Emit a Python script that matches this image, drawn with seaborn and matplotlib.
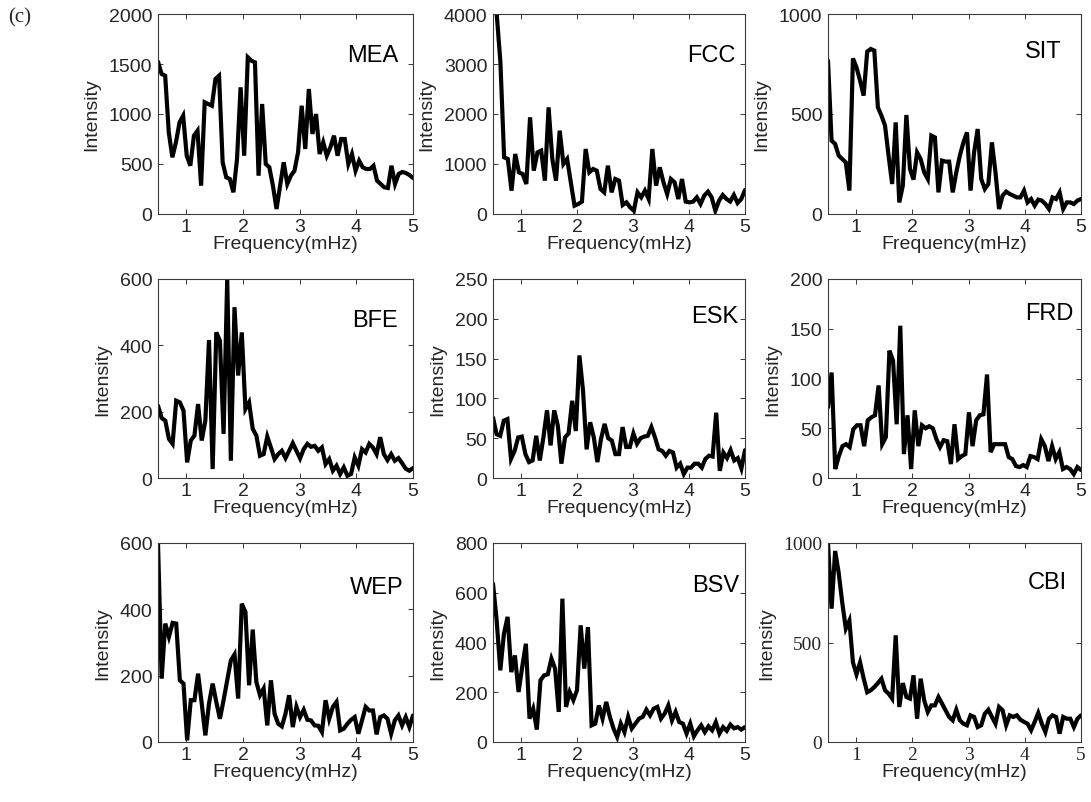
import numpy as np
import pandas as pd
import matplotlib
matplotlib.use("Agg")
import matplotlib.pyplot as plt
import seaborn as sns

# Station codes, one panel each (row-major order)
stations = ["MEA", "FCC", "SIT", "BFE", "ESK", "FRD", "WEP", "BSV", "CBI"]

# Spectral intensity per station, sampled evenly from 0.5 to 5 mHz
mea = [1523, 1400, 1383, 817, 567, 717, 917, 983, 583, 483, 783, 833, 283, 1117,
       1100, 1083, 1350, 1383, 517, 367, 350, 217, 550, 1267, 583, 1567, 1533, 1517,
       383, 1100, 500, 467, 283, 50, 283, 517, 300, 383, 433, 617, 1083, 650, 1250,
       800, 1000, 600, 717, 583, 667, 783, 583, 750, 750, 500, 600, 433, 533, 467,
       450, 450, 483, 333, 300, 267, 260, 483, 300, 400, 420, 410, 390, 360]
fcc = [5000, 4000, 3033, 1133, 1100, 467, 1200, 833, 800, 600, 1933, 867, 1233, 1267,
       667, 2133, 1100, 667, 1667, 1000, 1100, 633, 167, 200, 247, 1300, 833, 900,
       867, 500, 433, 967, 433, 700, 667, 180, 233, 133, 67, 433, 333, 467, 300,
       1300, 567, 933, 633, 400, 700, 633, 300, 700, 247, 233, 247, 333, 200, 367,
       447, 333, 67, 267, 380, 300, 250, 380, 220, 300, 480]
sit = [767, 367, 350, 292, 275, 258, 117, 778, 733, 667, 592, 812, 825, 817, 533,
       492, 442, 292, 150, 458, 58, 142, 495, 225, 172, 308, 275, 208, 175, 392,
       383, 108, 267, 262, 262, 108, 208, 292, 358, 408, 117, 308, 425, 175, 125,
       150, 358, 208, 25, 92, 112, 100, 92, 83, 83, 117, 58, 75, 42, 72, 67, 50,
       25, 83, 75, 108, 25, 58, 58, 50, 67, 75]
bfe = [218, 181, 173, 118, 103, 233, 228, 203, 47, 113, 128, 223, 113, 173, 416, 27,
       439, 414, 133, 600, 52, 515, 309, 439, 208, 228, 148, 128, 67, 72, 125, 92,
       57, 72, 82, 60, 82, 105, 82, 59, 87, 103, 94, 97, 82, 92, 42, 57, 22, 37,
       12, 32, 7, 12, 62, 37, 87, 77, 103, 92, 72, 123, 72, 54, 72, 52, 60, 45,
       28, 22, 30]
esk = [76, 55, 53, 72, 74, 24, 34, 51, 52, 30, 20, 22, 53, 22, 51, 85, 41, 85, 66,
       18, 51, 56, 97, 59, 154, 110, 36, 70, 51, 20, 49, 68, 50, 47, 30, 30, 64,
       39, 39, 56, 43, 50, 52, 53, 64, 51, 36, 34, 28, 34, 32, 13, 18, 5, 13, 13,
       18, 18, 13, 24, 28, 27, 82, 9, 32, 25, 35, 22, 25, 12, 35]
frd = [71, 106, 9, 22, 32, 34, 31, 49, 53, 53, 32, 58, 61, 63, 93, 34, 41, 128, 118,
       54, 153, 24, 63, 9, 68, 32, 53, 50, 52, 50, 39, 31, 38, 37, 14, 54, 19, 22,
       24, 66, 32, 58, 63, 64, 104, 26, 34, 34, 34, 34, 21, 19, 12, 11, 13, 11, 22,
       21, 19, 39, 32, 17, 32, 19, 26, 9, 11, 9, 4, 11, 8]
wep = [600, 191, 357, 317, 359, 357, 186, 176, 5, 126, 126, 206, 116, 20, 116, 176,
       121, 70, 126, 186, 246, 264, 131, 417, 392, 171, 339, 181, 141, 161, 50, 186,
       85, 55, 47, 85, 141, 45, 106, 75, 97, 67, 65, 50, 49, 30, 126, 70, 106, 121,
       35, 40, 55, 67, 75, 25, 65, 106, 95, 95, 23, 75, 80, 70, 25, 65, 80, 50, 75,
       45, 80]
bsv = [637, 489, 288, 436, 503, 281, 348, 201, 302, 395, 94, 134, 50, 248, 268, 272,
       335, 295, 121, 576, 141, 201, 168, 208, 469, 295, 462, 67, 74, 147, 94, 161,
       101, 54, 20, 74, 40, 101, 54, 74, 94, 101, 130, 107, 134, 141, 94, 114, 147,
       87, 121, 80, 74, 34, 74, 23, 47, 67, 40, 63, 47, 80, 34, 60, 45, 70, 55, 60,
       50, 60]
cbi = [1000, 670, 960, 850, 700, 570, 610, 400, 340, 400, 320, 250, 260, 276, 296,
       318, 260, 243, 218, 536, 176, 296, 226, 218, 335, 117, 318, 209, 151, 184,
       184, 226, 193, 159, 126, 109, 162, 109, 92, 84, 134, 126, 75, 84, 142, 162,
       126, 92, 176, 159, 84, 134, 126, 134, 112, 101, 92, 59, 101, 146, 92, 50,
       117, 134, 126, 42, 126, 117, 117, 75, 117, 134]
series = [mea, fcc, sit, bfe, esk, frd, wep, bsv, cbi]

# Axis ranges and tick steps per panel
y_max = [2000, 4000, 1000, 600, 250, 200, 600, 800, 1000]
y_step = [500, 1000, 500, 200, 50, 50, 200, 200, 500]
x_ticks = [1, 2, 3, 4, 5]

sns.set_style("ticks")
plt.rcParams["font.family"] = ["Liberation Sans", "DejaVu Sans"]
plt.rcParams["axes.linewidth"] = 0.8

W, H = 1091, 803
fig = plt.figure(figsize=(W / 100, H / 100), dpi=100)

# Panel grid in pixels
col_left = [158, 493, 828]
col_width = [255, 252, 253]
row_top = [15, 280, 544]
row_height = [200, 199, 199]
# Station name anchor (left, baseline) in axes fraction
name_xy = [(0.741, 0.765), (0.770, 0.765), (0.779, 0.785),
           (0.761, 0.764), (0.786, 0.784), (0.779, 0.799),
           (0.753, 0.750), (0.790, 0.760), (0.790, 0.775)]

spine_color = "#3a3a3a"
for k, (name, vals) in enumerate(zip(stations, series)):
    r, c = divmod(k, 3)
    left = col_left[c] / W
    bottom = 1 - (row_top[r] + row_height[r]) / H
    ax = fig.add_axes([left, bottom, col_width[c] / W, row_height[r] / H])

    df = pd.DataFrame({"Frequency": np.linspace(0.5, 5.0, len(vals)),
                       "Intensity": vals})
    sns.lineplot(data=df, x="Frequency", y="Intensity", ax=ax,
                 color="black", linewidth=3.0, solid_joinstyle="miter")

    ax.set_xlim(0.5, 5)
    ax.set_ylim(0, y_max[k])
    ax.set_xticks(x_ticks)
    ax.set_yticks(np.arange(0, y_max[k] + 1, y_step[k]))
    ax.set_xticklabels([str(t) for t in x_ticks])
    ax.set_yticklabels([str(int(t)) for t in np.arange(0, y_max[k] + 1, y_step[k])])

    for s in ax.spines.values():
        s.set_visible(True)
        s.set_color(spine_color)
        s.set_linewidth(0.8)
    ax.tick_params(direction="in", length=3.5, width=0.7, color=spine_color,
                   top=True, right=True, labelsize=14, pad=4)
    ax.tick_params(axis="x", pad=3)

    ax.set_xlabel("Frequency(mHz)", fontsize=14, labelpad=0)
    ax.set_ylabel("Intensity", fontsize=14, labelpad=6)

    if name == "CBI":
        for lab in ax.get_xticklabels() + ax.get_yticklabels():
            lab.set_fontfamily(["Liberation Serif", "DejaVu Serif"])

    ax.text(name_xy[k][0], name_xy[k][1], name, transform=ax.transAxes,
            fontsize=17, ha="left", va="baseline", color="black")

fig.text(8 / W, 1 - 8 / H, "(c)", fontsize=15, va="top", ha="left",
         family=["Liberation Serif", "DejaVu Serif"])

fig.savefig("out.png", dpi=100)
